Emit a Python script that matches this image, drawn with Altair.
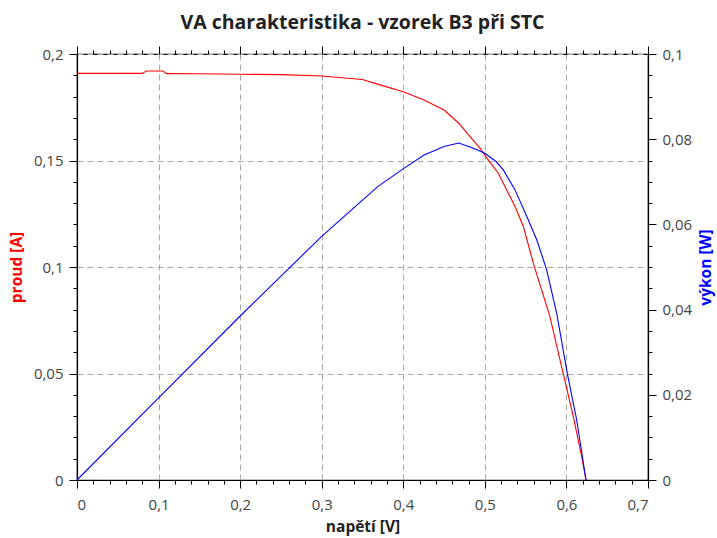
import altair as alt
import pandas as pd

# Measured I-V curve of sample B3 (voltage [V], current [A])
u_iv = [0.0, 0.05, 0.08, 0.085, 0.105, 0.11, 0.15, 0.2, 0.25, 0.3, 0.35, 0.3714,
        0.4, 0.4254, 0.45, 0.468, 0.48, 0.494, 0.5025, 0.5165, 0.5268, 0.537,
        0.5472, 0.56, 0.5797, 0.594, 0.6084, 0.6186, 0.624]
i_iv = [0.1909, 0.1909, 0.1909, 0.192, 0.192, 0.1908, 0.1907, 0.1905, 0.1903,
        0.1897, 0.188, 0.1855, 0.1823, 0.1784, 0.1737, 0.1675, 0.162, 0.1558,
        0.1511, 0.144, 0.1362, 0.1284, 0.119, 0.101, 0.0768, 0.0534, 0.0299,
        0.0112, 0.0]

# Power curve (voltage [V], power [W])
u_p = [0.0, 0.1, 0.2, 0.3, 0.3683, 0.398, 0.4255, 0.45, 0.468, 0.486, 0.5, 0.514,
       0.5226, 0.537, 0.5513, 0.5636, 0.5757, 0.588, 0.601, 0.6125, 0.624]
p_p = [0.0, 0.0193, 0.0385, 0.0572, 0.0688, 0.0728, 0.0763, 0.0783, 0.0791,
       0.0779, 0.0767, 0.0747, 0.0728, 0.0681, 0.0619, 0.0564, 0.0494, 0.0392,
       0.0251, 0.0142, 0.0]

# Tick positions
x_major = [round(k * 0.1, 1) for k in range(8)]
x_minor = [round(k * 0.02, 2) for k in range(36) if k % 5]
left_major = [round(k * 0.05, 2) for k in range(5)]
left_minor = [round(k * 0.01, 2) for k in range(21) if k % 5]
right_major = [round(k * 0.02, 2) for k in range(6)]
right_minor = [round(k * 0.005, 3) for k in range(21) if k % 4]

W, H = 571, 426

iv = pd.DataFrame({"U": u_iv, "I": i_iv})
pw = pd.DataFrame({"U": u_p, "P": p_p})

LABEL = "replace(format(datum.value, '~g'), '.', ',')"
GRID_DASH = [6, 4]

x_scale = alt.Scale(domain=[0, 0.7], nice=False, zero=False)
l_scale = alt.Scale(domain=[0, 0.2], nice=False)
r_scale = alt.Scale(domain=[0, 0.1], nice=False)


def bare_axis(orient, values, size):
    # tick-only axis (no labels, domain, grid or title)
    return alt.Axis(
        orient=orient, values=values, tickSize=size,
        labels=False, domain=False, grid=False, title=None,
    )


red = alt.Chart(iv).mark_line(color="#ff0000", strokeWidth=1.1).encode(
    x=alt.X(
        "U:Q",
        scale=x_scale,
        axis=alt.Axis(
            orient="bottom",
            values=x_major,
            title="napětí [V]",
            labelExpr=LABEL,
            tickSize=8,
            grid=True,
            gridDash=GRID_DASH,
            labelPadding=9,
            titlePadding=7,
        ),
    ),
    y=alt.Y(
        "I:Q",
        scale=l_scale,
        axis=alt.Axis(
            orient="left",
            values=left_major,
            title="proud [A]",
            titleColor="#ff0000",
            labelExpr=LABEL,
            tickSize=8,
            grid=True,
            gridDash=GRID_DASH,
            labelPadding=6,
            titlePadding=9,
        ),
    ),
    order="U:Q",
)

blue = alt.Chart(pw).mark_line(color="#0000ff", strokeWidth=1.1).encode(
    x=alt.X("U:Q", scale=x_scale, axis=bare_axis("top", x_major, 8)),
    y=alt.Y(
        "P:Q",
        scale=r_scale,
        axis=alt.Axis(
            orient="right",
            values=right_major,
            title="výkon [W]",
            titleColor="#0000ff",
            titleAngle=270,
            labelExpr=LABEL,
            tickSize=8,
            grid=False,
            labelPadding=6,
            titlePadding=22,
        ),
    ),
    order="U:Q",
)

# invisible copies that carry the minor-tick axes
red_minor = alt.Chart(iv).mark_line(opacity=0).encode(
    x=alt.X("U:Q", scale=x_scale, axis=bare_axis("bottom", x_minor, 4)),
    y=alt.Y("I:Q", scale=l_scale, axis=bare_axis("left", left_minor, 4)),
)
blue_minor = alt.Chart(pw).mark_line(opacity=0).encode(
    x=alt.X("U:Q", scale=x_scale, axis=bare_axis("top", x_minor, 4)),
    y=alt.Y("P:Q", scale=r_scale, axis=bare_axis("right", right_minor, 4)),
)

chart = (
    alt.layer(red_minor, blue_minor, red, blue)
    .resolve_scale(y="independent")
    .resolve_axis(x="independent", y="independent")
    .properties(
        width=W,
        height=H,
        background="white",
        title=alt.TitleParams(
            "VA charakteristika - vzorek B3 při STC",
            font="Open Sans",
            fontSize=19.5,
            fontWeight="bold",
            color="#222222",
            anchor="middle",
            offset=12,
        ),
        padding={"left": 77, "top": 54, "right": 69, "bottom": 58},
        autosize=alt.AutoSizeParams(type="none"),
    )
    .configure_axis(
        labelFont="Open Sans",
        labelFontSize=15,
        labelColor="#444444",
        titleFont="Open Sans",
        titleFontSize=15.5,
        titleFontWeight="bold",
        titleColor="#222222",
        domainColor="black",
        domainWidth=1.2,
        tickColor="black",
        tickWidth=1,
        gridColor="#a8a8a8",
        gridWidth=1,
    )
    .configure_view(stroke="black", strokeWidth=1.2)
)

chart.save("out.html", embed_options={"renderer": "svg", "actions": False})
